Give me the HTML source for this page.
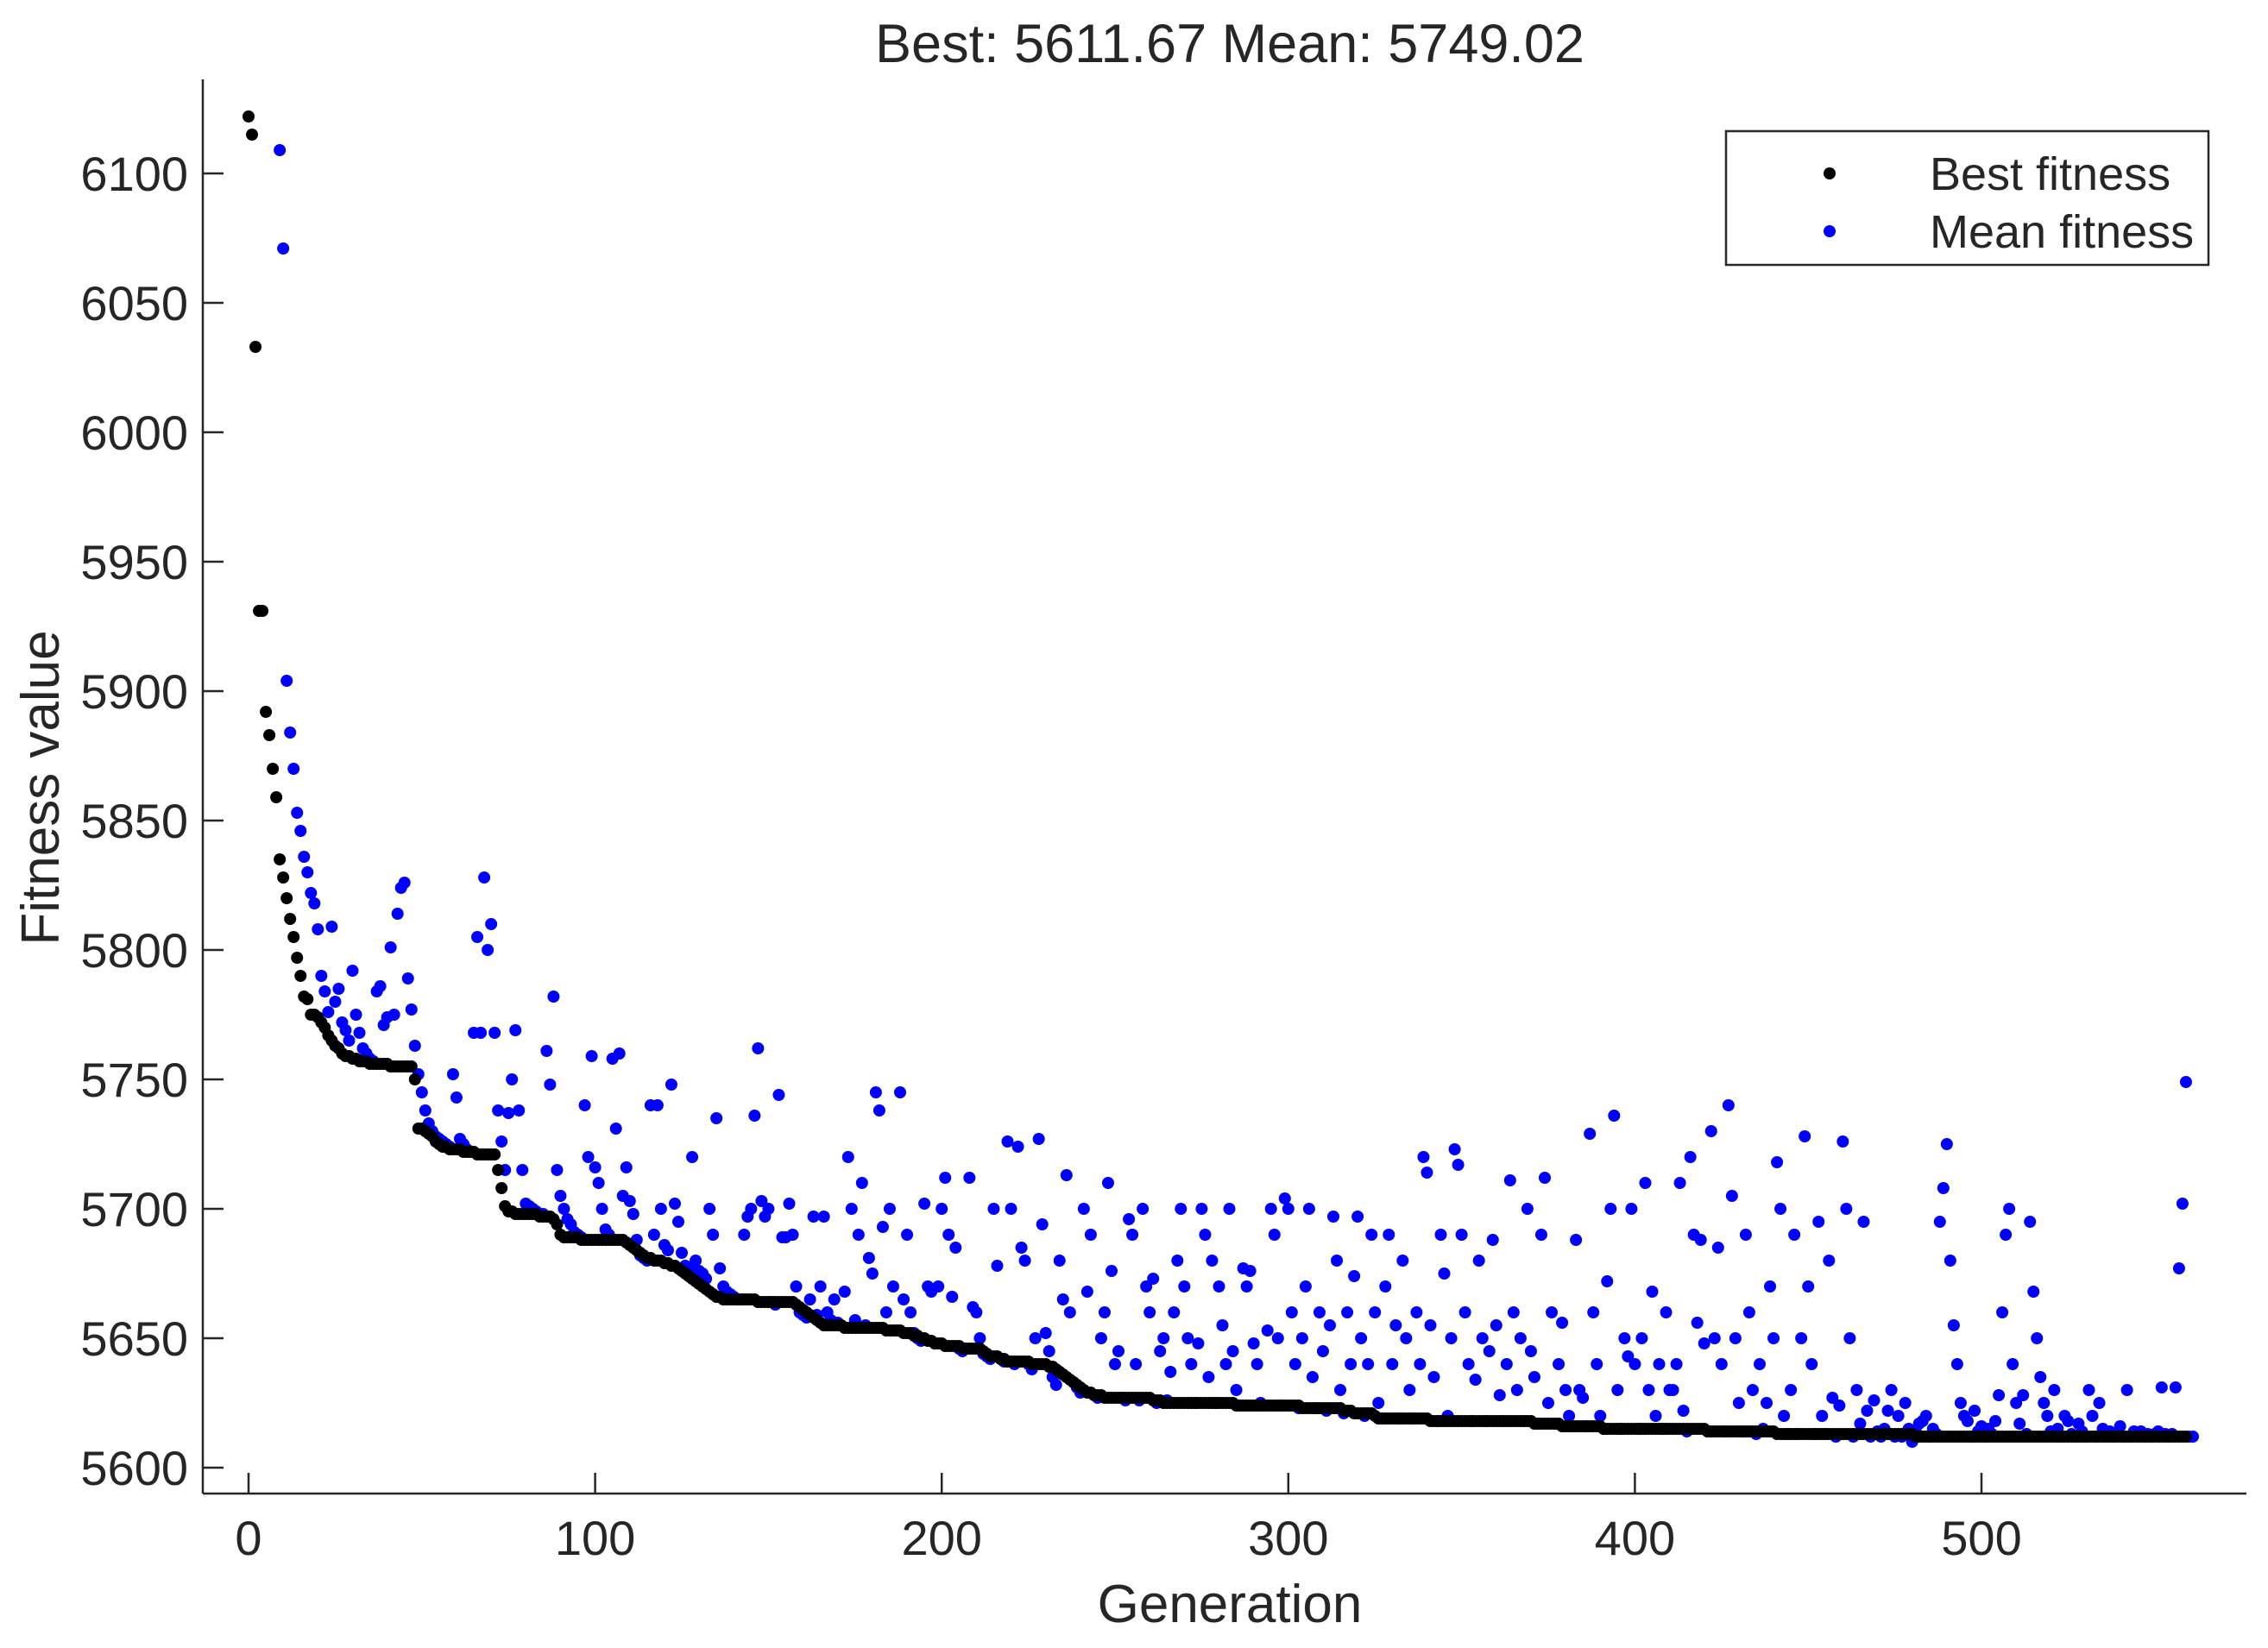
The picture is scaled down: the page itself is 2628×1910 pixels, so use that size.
<!DOCTYPE html>
<html><head><meta charset="utf-8"><title>Fitness chart</title>
<style>html,body{margin:0;padding:0;background:#fff}svg{display:block}text{font-family:"Liberation Sans",Arial,sans-serif;fill:#262626}</style>
</head><body>
<svg id="chart" width="2628" height="1910" viewBox="0 0 2628 1910">
<defs><clipPath id="plotclip"><rect x="235" y="92" width="2368" height="1639"/></clipPath></defs>
<rect width="2628" height="1910" fill="#fff"/>
<text x="1425" y="72" font-size="63" text-anchor="middle">Best: 5611.67 Mean: 5749.02</text>
<g id="axes"></g>
<g id="series" clip-path="url(#plotclip)"></g>
<text x="1425" y="1880" font-size="62" text-anchor="middle">Generation</text>
<text transform="translate(68,913) rotate(-90)" font-size="62" text-anchor="middle">Fitness value</text>
<g>
<rect x="2000" y="152" width="559" height="155" fill="#fff" stroke="#262626" stroke-width="2.5"/>
<circle cx="2120" cy="201" r="7" fill="#000"/>
<text x="2236" y="220" font-size="54">Best fitness</text>
<circle cx="2120" cy="268" r="7" fill="#0000ff"/>
<text x="2236" y="287" font-size="54">Mean fitness</text>
</g>
</svg>
<script>
const xTicks = [0, 100, 200, 300, 400, 500];
const yTicks = [5600, 5650, 5700, 5750, 5800, 5850, 5900, 5950, 6000, 6050, 6100];
const bestFitness = [
6122,6115,6033,5931,5931,5892,5883,5870,5859,5835,5828,
5820,5812,5805,5797,5790,5782,5781,5775,5775,5774,
5772,5770,5767,5765,5763,5762,5760,5759,5759,5758,
5758,5757,5757,5757,5756,5756,5756,5756,5756,5756,
5755,5755,5755,5755,5755,5755,5755,5750,5731,5731,
5730,5729,5728,5726,5725,5724,5724,5723,5723,5723,
5723,5722,5722,5722,5722,5721,5721,5721,5721,5721,
5721,5715,5708,5701,5699,5699,5698,5698,5698,5698,
5698,5698,5698,5697,5697,5697,5697,5696,5694,5690,
5689,5689,5689,5689,5689,5688,5688,5688,5688,5688,
5688,5688,5688,5688,5688,5688,5688,5688,5687,5686,
5685,5684,5683,5682,5681,5681,5680,5680,5680,5679,
5679,5678,5678,5677,5676,5675,5674,5673,5672,5671,
5670,5669,5668,5667,5666,5666,5665,5665,5665,5665,
5665,5665,5665,5665,5665,5665,5664,5664,5664,5664,
5664,5664,5664,5664,5664,5664,5664,5663,5662,5661,
5660,5659,5658,5657,5656,5655,5655,5655,5655,5655,
5655,5654,5654,5654,5654,5654,5654,5654,5654,5654,
5654,5654,5654,5653,5653,5653,5653,5653,5652,5652,
5652,5651,5651,5650,5650,5649,5649,5648,5648,5648,
5647,5647,5647,5647,5647,5646,5646,5646,5646,5646,
5646,5645,5644,5643,5643,5643,5642,5642,5641,5641,
5641,5641,5641,5641,5641,5640,5640,5640,5640,5640,
5639,5639,5638,5637,5636,5635,5634,5633,5632,5631,
5630,5629,5629,5628,5628,5628,5627,5627,5627,5627,
5627,5627,5627,5627,5627,5627,5627,5627,5627,5627,
5626,5626,5626,5625,5625,5625,5625,5625,5625,5625,
5625,5625,5625,5625,5625,5625,5625,5625,5625,5625,
5625,5625,5625,5625,5624,5624,5624,5624,5624,5624,
5624,5624,5624,5624,5624,5624,5624,5624,5624,5624,
5624,5624,5624,5623,5623,5623,5623,5623,5623,5623,
5623,5623,5623,5623,5623,5622,5622,5622,5621,5621,
5621,5621,5621,5621,5620,5619,5619,5619,5619,5619,
5619,5619,5619,5619,5619,5619,5619,5619,5619,5619,
5618,5618,5618,5618,5618,5618,5618,5618,5618,5618,
5618,5618,5618,5618,5618,5618,5618,5618,5618,5618,
5618,5618,5618,5618,5618,5618,5618,5618,5618,5618,
5617,5617,5617,5617,5617,5617,5617,5617,5616,5616,
5616,5616,5616,5616,5616,5616,5616,5616,5616,5616,
5615,5615,5615,5615,5615,5615,5615,5615,5615,5615,
5615,5615,5615,5615,5615,5615,5615,5615,5615,5615,
5615,5615,5615,5615,5615,5615,5615,5615,5615,5615,
5614,5614,5614,5614,5614,5614,5614,5614,5614,5614,
5614,5614,5614,5614,5614,5614,5614,5614,5614,5614,
5613,5613,5613,5613,5613,5613,5613,5613,5613,5613,
5613,5613,5613,5613,5613,5613,5613,5613,5613,5613,
5613,5613,5613,5613,5613,5613,5613,5613,5613,5613,
5613,5613,5613,5613,5613,5613,5613,5613,5613,5613,
5612,5612,5612,5612,5612,5612,5612,5612,5612,5612,
5612,5612,5612,5612,5612,5612,5612,5612,5612,5612,
5612,5612,5612,5612,5612,5612,5612,5612,5612,5612,
5612,5612,5612,5612,5612,5612,5612,5612,5612,5612,
5612,5612,5612,5612,5612,5612,5612,5612,5612,5612,
5612,5612,5612,5612,5612,5612,5612,5612,5612,5612,5612,
5612,5612,5612,5612,5612,5612,5612,5612,5612,
5612,5612,5612,5612,5612,5612,5612,5612,5612
];
const meanFitness = [
6400,6380,6350,6320,6290,6250,6210,6180,6150,6109,6071,
5904,5884,5870,5853,5846,5836,5830,5822,5818,5808,
5790,5784,5776,5809,5780,5785,5772,5769,5765,5792,
5775,5768,5762,5760,5758,5757,5784,5786,5771,5774,
5801,5775,5814,5824,5826,5789,5777,5763,5752,5745,
5738,5733,5730,5728,5727,5726,5725,5724,5752,5743,
5727,5725,5723,5722,5768,5805,5768,5828,5800,5810,
5768,5738,5726,5715,5737,5750,5769,5738,5715,5702,
5701,5700,5699,5698,5698,5761,5748,5782,5715,5705,
5700,5696,5694,5691,5690,5689,5740,5720,5759,5716,
5710,5700,5692,5690,5758,5731,5760,5705,5716,5703,
5698,5688,5682,5681,5680,5740,5690,5740,5700,5686,
5684,5748,5702,5695,5683,5678,5677,5720,5680,5676,
5675,5673,5700,5690,5735,5677,5670,5668,5667,5666,
5665,5665,5690,5697,5700,5736,5762,5703,5697,5700,
5664,5663,5744,5689,5689,5702,5690,5670,5660,5659,
5658,5665,5697,5659,5670,5697,5660,5657,5665,5656,
5655,5668,5720,5700,5657,5690,5710,5655,5681,5675,
5745,5738,5693,5660,5700,5670,5653,5745,5665,5690,
5660,5652,5650,5649,5702,5670,5668,5648,5670,5700,
5712,5690,5666,5685,5646,5645,5646,5712,5662,5660,
5650,5644,5643,5642,5700,5678,5642,5641,5726,5700,
5640,5724,5685,5680,5640,5638,5650,5727,5694,5652,
5645,5635,5632,5680,5665,5713,5660,5633,5631,5629,
5700,5668,5690,5628,5627,5650,5660,5710,5676,5640,
5645,5627,5626,5696,5690,5640,5626,5700,5670,5660,
5673,5625,5645,5650,5626,5637,5660,5680,5700,5670,
5650,5640,5625,5648,5700,5690,5635,5680,5625,5670,
5655,5640,5700,5645,5630,5624,5677,5670,5676,5648,
5640,5625,5624,5653,5700,5690,5650,5624,5704,5700,
5660,5640,5623,5650,5670,5700,5635,5623,5660,5645,
5622,5655,5697,5680,5630,5621,5660,5640,5674,5697,
5650,5620,5640,5690,5660,5625,5619,5670,5690,5640,
5655,5619,5680,5650,5630,5619,5660,5640,5720,5714,
5655,5635,5618,5690,5675,5620,5650,5723,5717,5690,
5660,5640,5618,5634,5680,5650,5618,5645,5688,5655,
5628,5618,5640,5711,5660,5630,5650,5618,5700,5645,
5635,5617,5690,5712,5625,5660,5617,5640,5656,5630,
5620,5616,5688,5630,5627,5616,5729,5660,5640,5620,
5615,5672,5700,5736,5630,5615,5650,5643,5700,5640,
5615,5650,5710,5630,5668,5620,5640,5615,5660,5630,
5630,5640,5710,5622,5614,5720,5690,5656,5688,5648,
5614,5730,5650,5685,5640,5614,5740,5705,5650,5625,
5614,5690,5660,5630,5613,5640,5615,5625,5670,5650,
5718,5700,5620,5613,5630,5690,5613,5650,5728,5670,
5640,5613,5695,5620,5613,5680,5627,5612,5624,5726,
5700,5650,5612,5630,5617,5695,5622,5612,5626,5614,
5612,5615,5622,5630,5612,5620,5612,5625,5615,5610,
5614,5617,5618,5620,5612,5615,5613,5695,5708,5725,
5680,5655,5640,5625,5620,5618,5612,5622,5614,5616,
5612,5615,5613,5618,5628,5660,5690,5700,5640,5625,
5617,5628,5613,5695,5668,5650,5635,5625,5620,5614,
5630,5615,5612,5620,5618,5613,5612,5617,5614,5612,
5630,5620,5612,5625,5615,5612,5614,5612,5613,5616,
5612,5630,5612,5614,5613,5614,5612,5613,5612,5613,
5614,5631,5613,5612,5613,5631,5677,5702,5749,5612,5612
];
const NS = 'http://www.w3.org/2000/svg';
const X0 = 235, X1 = 2603, Y0 = 92, Y1 = 1731;
function xScale(g) { return 288 + g * 4.016; }
function yScale(v) { return 201 + (6100 - v) * 3.0; }
function mk(tag, attrs) { const e = document.createElementNS(NS, tag); for (const k in attrs) e.setAttribute(k, attrs[k]); return e; }
const axes = document.getElementById('axes');
const yAxis = mk('line', {x1: X0, y1: Y0, x2: X0, y2: Y1, stroke: '#262626', 'stroke-width': 2.5});


axes.appendChild(yAxis);
const xAxis = mk('line', {x1: X0, y1: Y1, x2: X1, y2: Y1, stroke: '#262626', 'stroke-width': 2.5});


axes.appendChild(xAxis);
yTicks.forEach(v => {
  const y = yScale(v);
  const t = mk('line', {x1: X0, y1: y, x2: X0 + 24, y2: y, stroke: '#262626', 'stroke-width': 2.5});
  
  
  axes.appendChild(t);
  const l = mk('text', {x: 218, y: y + 20, 'font-size': 56, 'text-anchor': 'end'});
  l.textContent = v;
  
  
  axes.appendChild(l);
});
xTicks.forEach(g => {
  const x = xScale(g);
  const t = mk('line', {x1: x, y1: Y1, x2: x, y2: Y1 - 24, stroke: '#262626', 'stroke-width': 2.5});
  
  
  axes.appendChild(t);
  const l = mk('text', {x: x, y: 1802, 'font-size': 56, 'text-anchor': 'middle'});
  l.textContent = g;
  
  
  axes.appendChild(l);
});
const series = document.getElementById('series');
const gMean = mk('g', {fill: '#0000ff'});


series.appendChild(gMean);
const gBest = mk('g', {fill: '#000000'});


series.appendChild(gBest);
meanFitness.forEach((v, i) => {
  const c = mk('circle', {cx: xScale(i), cy: yScale(v), r: 7});
  
  
  gMean.appendChild(c);
});
bestFitness.forEach((v, i) => {
  const c = mk('circle', {cx: xScale(i), cy: yScale(v), r: 7});
  
  
  gBest.appendChild(c);
});
</script>
</body></html>
